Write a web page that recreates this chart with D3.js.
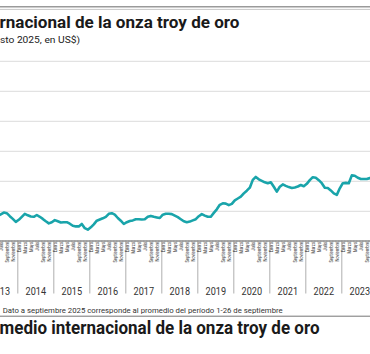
<!DOCTYPE html>
<html>

<head>
    <meta charset="UTF-8">
    <title>Precio promedio internacional de la onza troy de oro</title>
    <script src="https://d3js.org/d3.v7.min.js"></script>
    <style>
        body { margin: 0; background: #fff; }
        svg { display: block; font-family: Roboto, "Open Sans", sans-serif; }
    </style>
</head>

<body>
    <script>
        // datos (US$ por onza, promedio mensual)
        const monthNames = ["Enero", "Febrero", "Marzo", "Abril", "Mayo", "Junio",
            "Julio", "Agosto", "Septiembre", "Octubre", "Noviembre", "Diciembre"];
        const years = [2013, 2014, 2015, 2016, 2017, 2018, 2019, 2020, 2021, 2022, 2023];
        const yTicks = [1500, 2000, 2500, 3000, 3500, 4000];
        const firstMonth = 5; // junio 2013
        const prices = [
            1415, 1440, 1470, 1460, 1410, 1365, 1315,
            1350, 1400, 1450, 1425, 1405, 1400, 1430, 1400, 1365, 1325, 1290, 1310,
            1345, 1325, 1305, 1310, 1310, 1285, 1250, 1240, 1240, 1280, 1210, 1185,
            1225, 1275, 1335, 1355, 1375, 1400, 1450, 1460, 1435, 1380, 1335, 1280,
            1310, 1330, 1340, 1360, 1360, 1355, 1360, 1400, 1415, 1400, 1390, 1380,
            1435, 1450, 1450, 1445, 1420, 1395, 1360, 1325, 1310, 1320, 1340, 1360,
            1410, 1445, 1420, 1400, 1400, 1465, 1525, 1600, 1625, 1620, 1595, 1615,
            1675, 1705, 1735, 1790, 1835, 1885, 2015, 2065, 2025, 2000, 1975, 1960,
            1975, 1900, 1820, 1900, 1940, 1915, 1895, 1880, 1890, 1905, 1930, 1910,
            1950, 2010, 2060, 2050, 2010, 1960, 1885, 1880, 1840, 1790, 1765, 1875,
            1960, 1965, 1960, 2090, 2085, 2050, 2030, 2030, 2030, 2045, 2060
        ];

        const title = "rnacional de la onza troy de oro";
        const subtitle = "sto 2025, en US$)";
        const note = "Dato a septiembre 2025 corresponde al promedio del período 1-26 de septiembre";
        const bottomTitle = "medio internacional de la onza troy de oro";

        const width = 370, height = 354;
        const axisY = 240.5;

        const data = prices.map((v, i) => ({ m: firstMonth + i, v: v }));

        // indice de mes desde enero 2013
        const x = d3.scaleLinear().domain([0, 132]).range([-18.7, 377.3]);
        const y = d3.scaleLinear().domain([1000, 4000]).range([240.8, 60.8]);

        const svg = d3.select("body").append("svg")
            .attr("width", width).attr("height", height);

        // lineas superiores
        svg.append("line").attr("x1", 0).attr("x2", width).attr("y1", 6.8).attr("y2", 6.8)
            .attr("stroke", "#9a9a9a").attr("stroke-width", 1.4);
        svg.append("line").attr("x1", 0).attr("x2", width).attr("y1", 9.4).attr("y2", 9.4)
            .attr("stroke", "#b8b8b8").attr("stroke-width", 0.8);

        svg.append("text").attr("x", -0.5).attr("y", 28.3)
            .attr("font-size", 17).attr("font-weight", "bold").attr("fill", "#1a1a1a")
            .attr("textLength", 240).attr("lengthAdjust", "spacingAndGlyphs")
            .text(title);
        svg.append("text").attr("x", 0).attr("y", 43.3)
            .attr("font-size", 9).attr("fill", "#222")
            .attr("textLength", 80).attr("lengthAdjust", "spacingAndGlyphs")
            .text(subtitle);

        // grilla
        svg.append("g")
            .call(d3.axisRight(y).tickValues(yTicks).tickSize(width).tickFormat(""))
            .call(g => g.select(".domain").remove())
            .call(g => g.selectAll(".tick line").attr("stroke", "#e2e2e2").attr("stroke-width", 1.3));

        // eje x
        const monthIdx = d3.range(0, 133);
        svg.append("g")
            .attr("transform", `translate(0,${axisY})`)
            .call(d3.axisBottom(x).tickValues(monthIdx).tickSize(2).tickFormat(""))
            .call(g => g.select(".domain").attr("stroke", "#555").attr("stroke-width", 1))
            .call(g => g.selectAll(".tick line").attr("stroke", "#888").attr("stroke-width", 0.5));

        // separadores de anio
        svg.append("g")
            .attr("transform", `translate(0,${axisY})`)
            .call(d3.axisBottom(x).tickValues(d3.range(0, 133, 12)).tickSize(53).tickFormat(""))
            .call(g => g.select(".domain").remove())
            .call(g => g.selectAll(".tick line").attr("stroke", "#9a9a9a").attr("stroke-width", 0.8));

        // etiquetas de meses (solo las que caen dentro del recorte)
        const labelIdx = monthIdx.filter(i => i % 2 === 0 && i < 132).map(i => i + 0.5)
            .filter(i => x(i) > -1);
        svg.append("g")
            .attr("transform", `translate(0,${axisY + 1.5})`)
            .call(d3.axisBottom(x).tickValues(labelIdx).tickSize(0)
                .tickFormat(i => monthNames[Math.floor(i) % 12]))
            .call(g => g.select(".domain").remove())
            .call(g => g.selectAll("text")
                .attr("font-family", "Roboto, sans-serif")
                .attr("font-size", 5.2).attr("fill", "#3a3a3a")
                .attr("text-anchor", "end").attr("y", 0).attr("x", 0).attr("dy", "0.35em")
                .attr("transform", "rotate(-90) scale(0.78,1)"));

        // etiquetas de anios
        svg.append("g")
            .attr("transform", `translate(0,${axisY})`)
            .call(d3.axisBottom(x).tickValues(years.map((yr, i) => i * 12 + 6)).tickSize(0)
                .tickFormat((d, i) => years[i]))
            .call(g => g.select(".domain").remove())
            .call(g => g.selectAll("text")
                .attr("font-family", "Roboto, sans-serif")
                .attr("font-size", 11.2).attr("fill", "#333")
                .attr("y", 54.6).attr("dy", 0)
                .attr("textLength", 20.5).attr("lengthAdjust", "spacingAndGlyphs"));

        // linea de precios
        const line = d3.line().x(d => x(d.m + 0.5)).y(d => y(d.v)).curve(d3.curveLinear);
        svg.append("path").datum(data)
            .attr("d", line)
            .attr("fill", "none")
            .attr("stroke", "#19a4aa")
            .attr("stroke-width", 2.6)
            .attr("stroke-linejoin", "round");

        // nota
        svg.append("text").attr("x", 2.7).attr("y", 312.7)
            .attr("font-size", 7.6).attr("fill", "#333")
            .attr("textLength", 280).attr("lengthAdjust", "spacingAndGlyphs")
            .text(note);
        svg.append("line").attr("x1", 0).attr("x2", width).attr("y1", 316.2).attr("y2", 316.2)
            .attr("stroke", "#666").attr("stroke-width", 0.9);

        svg.append("text").attr("x", -0.5).attr("y", 333.5)
            .attr("font-size", 18).attr("font-weight", "bold").attr("fill", "#1a1a1a")
            .attr("textLength", 320).attr("lengthAdjust", "spacingAndGlyphs")
            .text(bottomTitle);
    </script>
</body>

</html>
